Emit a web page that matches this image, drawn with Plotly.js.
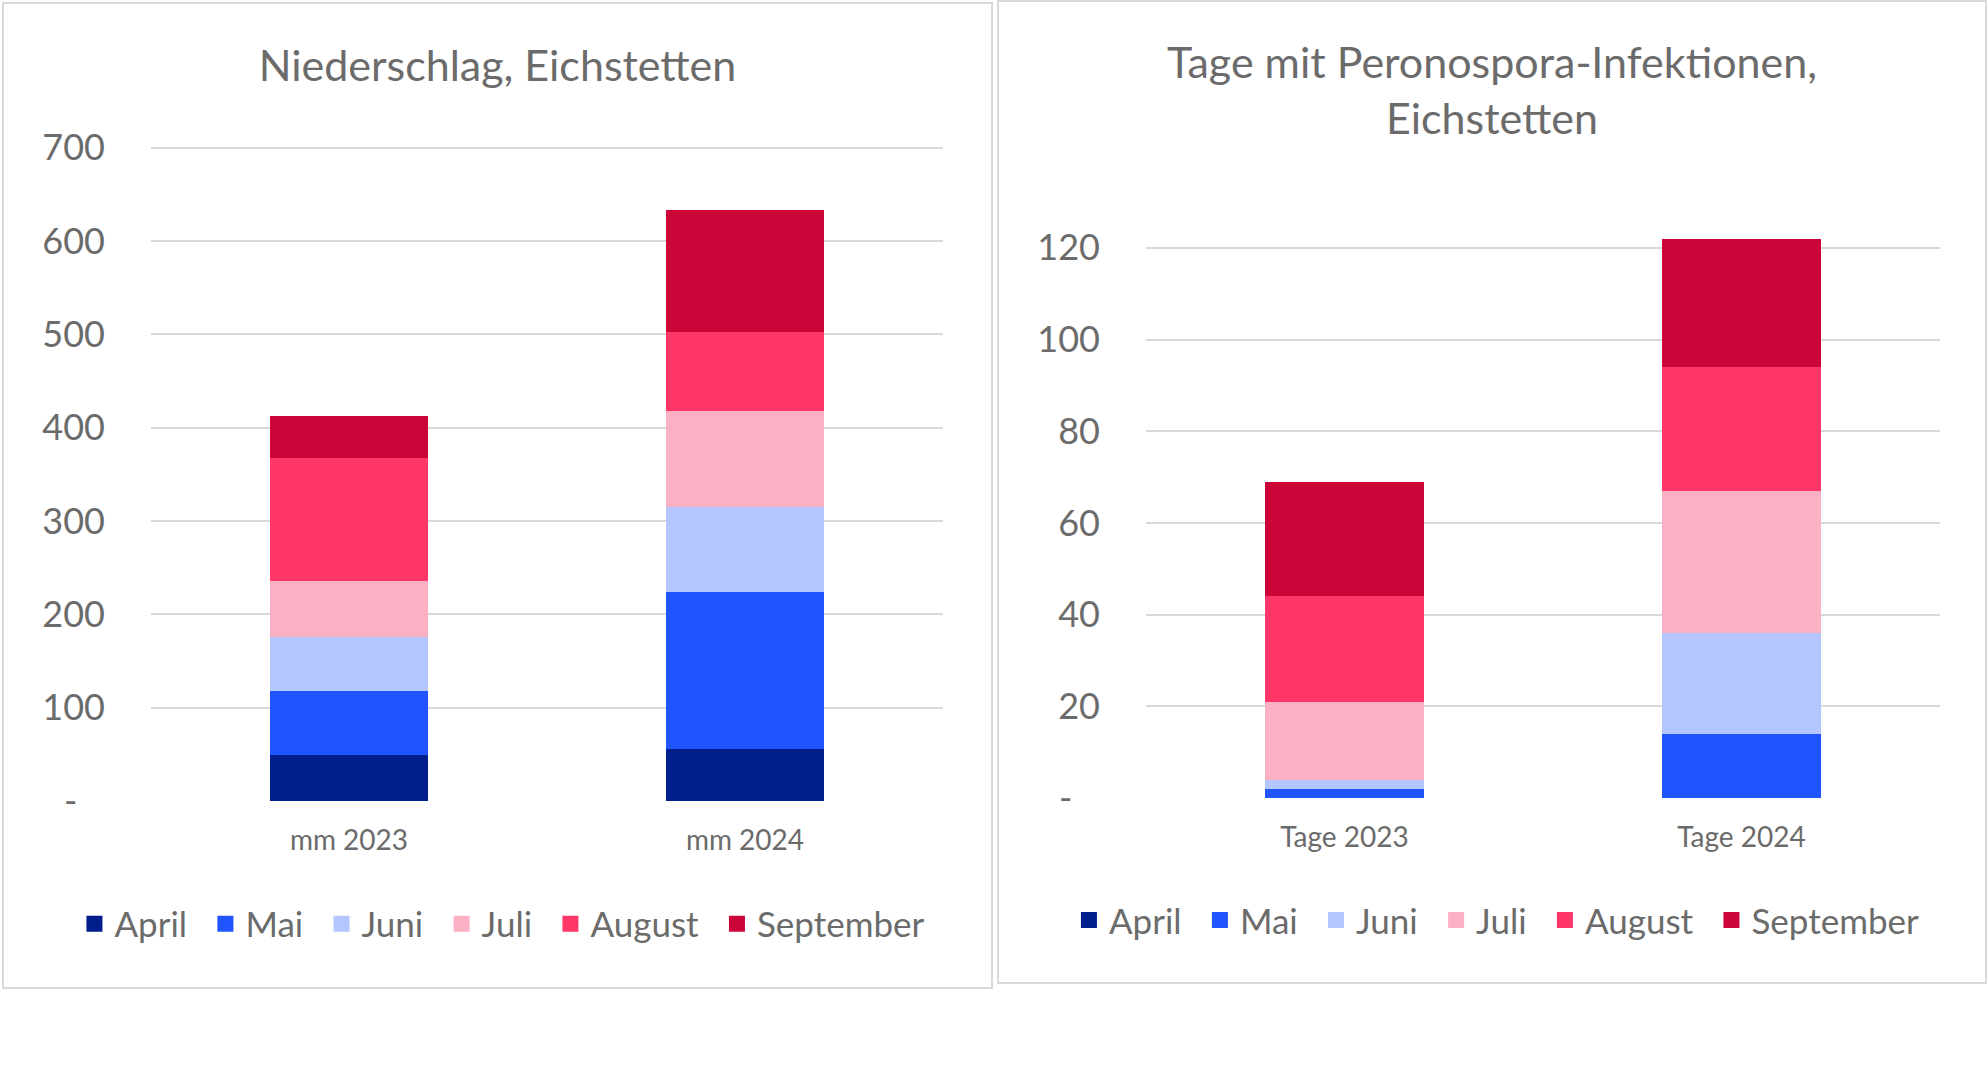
<!DOCTYPE html>
<html>
<head>
<meta charset="utf-8">
<script src="https://cdn.plot.ly/plotly-3.0.1.min.js"></script>
<style>
  body { margin: 0; background: #fff; width: 1987px; height: 1079px; overflow: hidden; }
  #niederschlag { position: absolute; left: 2px; top: 2px; width: 987px; height: 983px; border: 2px solid #d9d9d9; }
  #peronospora { position: absolute; left: 997px; top: 0px; width: 986px; height: 980px; border: 2px solid #d9d9d9; }
</style>
</head>
<body>
<div id="niederschlag"></div>
<div id="peronospora"></div>
<script>
// months (stack order, bottom to top)
const months = ["April", "Mai", "Juni", "Juli", "August", "September"];
const colors = ["#001F8C", "#1F54FF", "#B4C6FF", "#FBB0C3", "#FF3768", "#CC0538"];

// Niederschlag in mm
const rainCats = ["mm 2023", "mm 2024"];
const rain2023 = [49, 69, 58, 60, 131, 45];
const rain2024 = [56, 168, 91, 103, 84, 131];
const rainTicks = [0, 100, 200, 300, 400, 500, 600, 700];

// Tage mit Peronospora-Infektionen
const dayCats = ["Tage 2023", "Tage 2024"];
const days2023 = [0, 2, 2, 17, 23, 25];
const days2024 = [0, 14, 22, 31, 27, 28];
const dayTicks = [0, 20, 40, 60, 80, 100, 120];

const grey = "#6b6b6b";
const font = "Lato, 'Open Sans', sans-serif";

function tickText(vals) {
    return vals.map(v => v === 0 ? "-\u00a0\u00a0\u00a0" : String(v));
}

function traces(cats, a, b) {
    let out = [];
    for (let i = 0; i < months.length; i++) {
        out.push({
            x: cats,
            y: [a[i], b[i]],
            name: months[i],
            type: 'bar',
            showlegend: false,
            marker: { color: colors[i], line: { width: 0 } },
            hoverinfo: 'skip'
        });
    }
    // legend entries with bigger square swatches, a bit more room between them
    for (let i = 0; i < months.length; i++) {
        let pad = i < months.length - 1 ? "\u00a0\u2009" : "";
        out.push({
            x: [null],
            y: [null],
            name: months[i] + pad,
            type: 'scatter',
            mode: 'markers',
            marker: { symbol: 'square', size: 19, color: colors[i] },
            hoverinfo: 'skip'
        });
    }
    return out;
}

function layout(title, titleY, ticks, range, domain, margin, legendX, legendY) {
    return {
        barmode: 'stack',
        bargap: 0.6,
        paper_bgcolor: '#ffffff',
        plot_bgcolor: '#ffffff',
        margin: margin,
        font: { family: font, color: grey },
        title: {
            text: title,
            font: { family: font, size: 43, color: grey },
            xref: 'container', x: 0.5, xanchor: 'center',
            yref: 'container', y: titleY, yanchor: 'middle'
        },
        xaxis: {
            domain: domain,
            tickfont: { family: font, size: 28, color: grey },
            showgrid: false, showline: false, zeroline: false,
            ticks: '', ticklabelstandoff: 20, fixedrange: true
        },
        yaxis: {
            range: range,
            tickvals: ticks,
            ticktext: tickText(ticks),
            tickfont: { family: font, size: 36, color: grey },
            showgrid: true, gridcolor: '#d9d9d9', gridwidth: 2,
            zeroline: false, showline: false,
            ticks: '', ticklabelstandoff: 45, fixedrange: true
        },
        showlegend: true,
        legend: {
            orientation: 'h',
            xref: 'container', x: legendX, xanchor: 'center',
            yref: 'container', y: legendY, yanchor: 'middle',
            traceorder: 'normal',
            itemsizing: 'trace',
            itemwidth: 30,
            font: { family: font, size: 35, color: grey },
            itemclick: false, itemdoubleclick: false
        }
    };
}

Plotly.newPlot('niederschlag', traces(rainCats, rain2023, rain2024),
    layout('Niederschlag, Eichstetten', 0.937, rainTicks, [0, 705], [0.1341, 0.9704],
        { l: 20, r: 20, t: 139, b: 186 }, 0.505, 0.064),
    { staticPlot: true });

Plotly.newPlot('peronospora', traces(dayCats, days2023, days2024),
    layout('Tage mit Peronospora-Infektionen,<br>Eichstetten', 0.922, dayTicks, [0, 130], [0.1342, 0.9736],
        { l: 20, r: 20, t: 200, b: 184 }, 0.505, 0.063),
    { staticPlot: true });
</script>
</body>
</html>
